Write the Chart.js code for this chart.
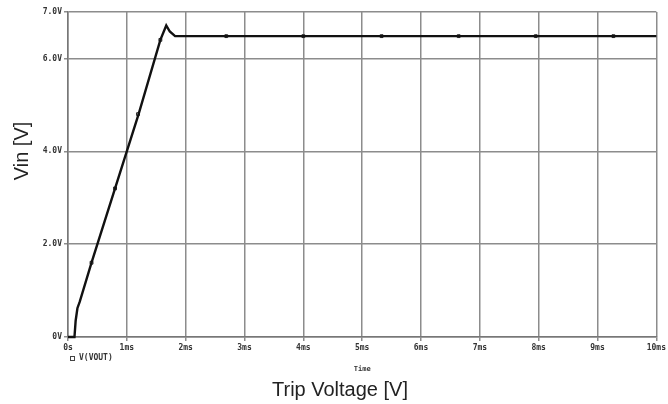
<!DOCTYPE html>
<html>
<head>
<meta charset="utf-8">
<script src="https://cdn.jsdelivr.net/npm/chart.js@4"></script>
<style>
html,body{margin:0;padding:0;background:#fff;}
#wrap{width:668px;height:404px;position:relative;}
</style>
</head>
<body>
<div id="wrap"><canvas id="c" width="668" height="404"></canvas></div>
<script>
// Time in ms, voltage in V
const timeMs   = [0, 0.11, 0.13, 0.16, 0.2, 0.4, 0.8, 1.2, 1.57, 1.67, 1.73, 1.82, 10];
const vout     = [0, 0,    0.35, 0.62, 0.76, 1.6, 3.2, 4.8, 6.4, 6.71, 6.58, 6.48, 6.48];
const markerT  = [0.40, 0.80, 1.19, 1.57, 2.69, 4.0, 5.33, 6.64, 7.95, 9.27];
const markerV  = [1.6, 3.2, 4.8, 6.4, 6.48, 6.48, 6.48, 6.48, 6.48, 6.48];
const xTicks   = [0,1,2,3,4,5,6,7,8,9,10];
const xLabels  = ['0s','1ms','2ms','3ms','4ms','5ms','6ms','7ms','8ms','9ms','10ms'];
const yTicks   = [0,2,4,6,7];
const yLabels  = ['0V','2.0V','4.0V','6.0V','7.0V'];
const seriesName = 'V(VOUT)';
const xAxisCaption = 'Time';
const xTitle = 'Trip Voltage [V]';
const yTitle = 'Vin [V]';

const tickFont = {family:'DejaVu Sans Mono', size:8, weight:'bold'};

const textPlugin = {
  id:'texts',
  afterDraw(chart){
    const ctx = chart.ctx, a = chart.chartArea;
    ctx.save();
    ctx.fillStyle = '#222';
    ctx.font = '20px "Liberation Sans", Arial, sans-serif';
    ctx.textAlign = 'center'; ctx.textBaseline = 'middle';
    ctx.translate(22, 151); ctx.rotate(-Math.PI/2);
    ctx.fillText(yTitle, 0, 0);
    ctx.restore();
    ctx.save();
    ctx.fillStyle = '#222';
    ctx.font = '20px "Liberation Sans", Arial, sans-serif';
    ctx.textAlign = 'center'; ctx.textBaseline = 'middle';
    ctx.fillText(xTitle, 340, 390);
    ctx.font = 'bold 7px "DejaVu Sans Mono", monospace';
    ctx.fillStyle = '#333';
    ctx.fillText(xAxisCaption, (a.left + a.right)/2, 369);
    ctx.strokeStyle = '#444'; ctx.lineWidth = 1;
    ctx.strokeRect(70.5, 356.5, 4, 4);
    ctx.textAlign = 'left';
    ctx.font = 'bold 8px "DejaVu Sans Mono", monospace';
    ctx.fillText(seriesName, 79, 358);
    ctx.restore();
  }
};

new Chart(document.getElementById('c'), {
  type:'scatter',
  data:{
    datasets:[
      {
        label:seriesName,
        data: timeMs.map((t,i)=>({x:t, y:vout[i]})),
        showLine:true,
        borderColor:'#111',
        borderWidth:2.4,
        pointRadius:0,
        tension:0,
        clip:false
      },
      {
        label:'markers',
        data: markerT.map((t,i)=>({x:t, y:markerV[i]})),
        showLine:false,
        pointStyle:'rect',
        pointRadius:2,
        borderColor:'#222',
        borderWidth:1,
        backgroundColor:'#ddd'
      }
    ]
  },
  options:{
    responsive:false,
    animation:false,
    layout:{padding:{left:0, right:7, top:12, bottom:0}},
    plugins:{legend:{display:false}, tooltip:{enabled:false}},
    scales:{
      x:{
        type:'linear', min:0, max:10,
        afterBuildTicks(s){ s.ticks = xTicks.map(v=>({value:v})); },
        afterFit(s){ s.height = 67; },
        ticks:{
          callback:(v)=>{ const i = xTicks.indexOf(v); return i>=0 ? xLabels[i] : ''; },
          font:tickFont, color:'#333', maxRotation:0, autoSkip:false, padding:2
        },
        grid:{color:'#8c8c8c', lineWidth:1.5, tickLength:4, drawTicks:true},
        border:{color:'#777', width:1.5}
      },
      y:{
        type:'linear', min:0, max:7,
        afterBuildTicks(s){ s.ticks = yTicks.map(v=>({value:v})); },
        afterFit(s){ s.width = 68; },
        ticks:{
          callback:(v)=>{ const i = yTicks.indexOf(v); return i>=0 ? yLabels[i] : ''; },
          font:tickFont, color:'#333', padding:2
        },
        grid:{color:'#8c8c8c', lineWidth:1.5, tickLength:4, drawTicks:true},
        border:{color:'#777', width:1.5}
      }
    }
  },
  plugins:[textPlugin]
});
</script>
</body>
</html>
